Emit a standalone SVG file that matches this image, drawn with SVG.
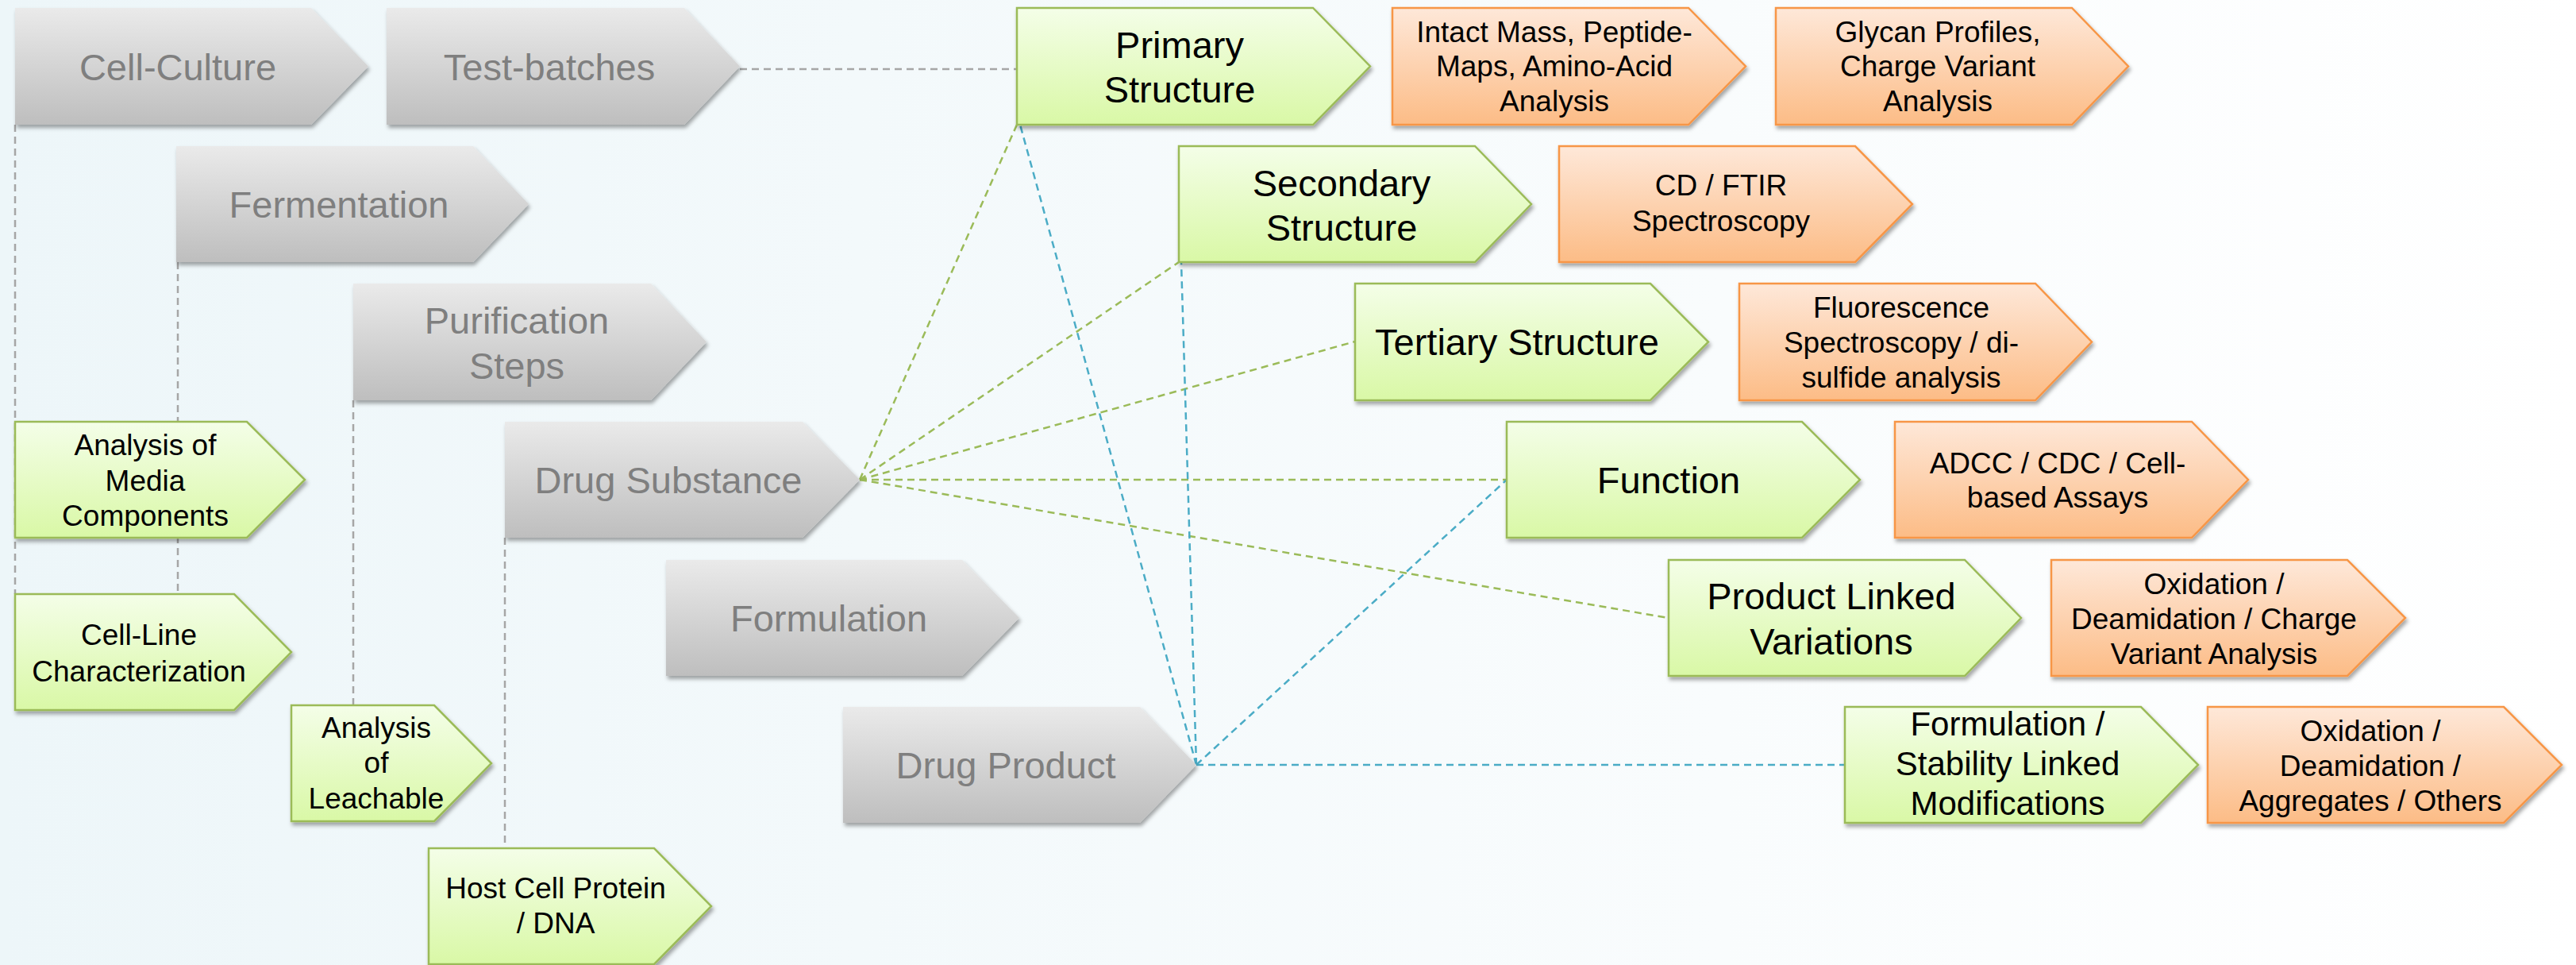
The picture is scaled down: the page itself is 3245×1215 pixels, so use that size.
<svg xmlns="http://www.w3.org/2000/svg" width="3245" height="1215" viewBox="0 0 3245 1215">
<defs>
<linearGradient id="bg" x1="0" y1="0" x2="1" y2="0"><stop offset="0" stop-color="#EDF6F9"/><stop offset="1" stop-color="#FFFFFF"/></linearGradient>
<linearGradient id="gGray" x1="0" y1="0" x2="0" y2="1"><stop offset="0" stop-color="#EAEAEA"/><stop offset="1" stop-color="#BEBEBE"/></linearGradient>
<linearGradient id="gGreen" x1="0" y1="0" x2="0" y2="1"><stop offset="0" stop-color="#F4FEE8"/><stop offset="1" stop-color="#D9F8A6"/></linearGradient>
<linearGradient id="gOrange" x1="0" y1="0" x2="0" y2="1"><stop offset="0" stop-color="#FEE8D9"/><stop offset="1" stop-color="#FCBC86"/></linearGradient>
<filter id="sh" x="-5%" y="-5%" width="115%" height="125%"><feDropShadow dx="2" dy="4" stdDeviation="2.5" flood-color="#000" flood-opacity="0.35"/></filter>
</defs>
<style>
.gray{fill:url(#gGray);stroke:none;filter:url(#sh)}
.green{fill:url(#gGreen);stroke:#9BBB59;stroke-width:2.5;filter:url(#sh)}
.orange{fill:url(#gOrange);stroke:#F79646;stroke-width:2.5;filter:url(#sh)}
text{font-family:"Liberation Sans",Arial,sans-serif;text-anchor:middle}
.tg{fill:#7F7F7F;font-size:47px}
.tb{fill:#000;font-size:47px}
.ts{fill:#000;font-size:37px}
.to{fill:#000;font-size:37px}
.cg{stroke:#A6A6A6;stroke-width:2.5;stroke-dasharray:9 6;fill:none}
.cgr{stroke:#9BBB59;stroke-width:2.5;stroke-dasharray:9 6;fill:none}
.cb{stroke:#4BACC6;stroke-width:2.5;stroke-dasharray:9 6;fill:none}
</style>
<rect x="0" y="0" width="3245" height="1215" fill="url(#bg)"/>
<g id="connectors">
<line class="cg" x1="932" y1="87" x2="1281" y2="87"/>
<line class="cg" x1="19" y1="157" x2="19" y2="748"/>
<line class="cg" x1="224" y1="330" x2="224" y2="748"/>
<line class="cg" x1="445" y1="504" x2="445" y2="888"/>
<line class="cg" x1="636" y1="677" x2="636" y2="1068"/>
<line class="cgr" x1="1083" y1="604" x2="1281" y2="157"/>
<line class="cgr" x1="1083" y1="604" x2="1485" y2="330"/>
<line class="cgr" x1="1083" y1="604" x2="1707" y2="430"/>
<line class="cgr" x1="1083" y1="604" x2="1898" y2="604"/>
<line class="cgr" x1="1083" y1="604" x2="2102" y2="778"/>
<line class="cb" x1="1507" y1="963" x2="1285" y2="157"/>
<line class="cb" x1="1507" y1="963" x2="1488" y2="330"/>
<line class="cb" x1="1507" y1="963" x2="1898" y2="604"/>
<line class="cb" x1="1507" y1="963" x2="2324" y2="963"/>
</g>
<g id="cell-culture"><path class="gray" d="M19,10 H392 L464,83.5 L392,157 H19 Z"/><text class="tg" x="224" y="101">Cell-Culture</text></g>
<g id="test-batches"><path class="gray" d="M487,10 H862 L932,83.5 L862,157 H487 Z"/><text class="tg" x="692" y="101">Test-batches</text></g>
<g id="fermentation"><path class="gray" d="M222,184 H596 L666,257 L596,330 H222 Z"/><text class="tg" x="427" y="274">Fermentation</text></g>
<g id="purification"><path class="gray" d="M445,357 H820 L890,430.5 L820,504 H445 Z"/><text class="tg" x="651" y="420">Purification</text><text class="tg" x="651" y="477">Steps</text></g>
<g id="drug-substance"><path class="gray" d="M636,531 H1011 L1083,604 L1011,677 H636 Z"/><text class="tg" x="842" y="621">Drug Substance</text></g>
<g id="formulation"><path class="gray" d="M839,705 H1212 L1284,778 L1212,851 H839 Z"/><text class="tg" x="1044" y="795">Formulation</text></g>
<g id="drug-product"><path class="gray" d="M1062,890 H1436 L1507,963 L1436,1036 H1062 Z"/><text class="tg" x="1267" y="980">Drug Product</text></g>
<g id="primary"><path class="green" d="M1281,10 H1654 L1726,83.5 L1654,157 H1281 Z"/><text class="tb" x="1486" y="73">Primary</text><text class="tb" x="1486" y="129">Structure</text></g>
<g id="secondary"><path class="green" d="M1485,184 H1858 L1929,257 L1858,330 H1485 Z"/><text class="tb" x="1690" y="247">Secondary</text><text class="tb" x="1690" y="303">Structure</text></g>
<g id="tertiary"><path class="green" d="M1707,357 H2079 L2152,430.5 L2079,504 H1707 Z"/><text class="tb" x="1911" y="447">Tertiary Structure</text></g>
<g id="function"><path class="green" d="M1898,531 H2270 L2343,604 L2270,677 H1898 Z"/><text class="tb" x="2102" y="621">Function</text></g>
<g id="product-linked"><path class="green" d="M2102,705 H2475 L2546,778 L2475,851 H2102 Z"/><text class="tb" x="2307" y="767">Product Linked</text><text class="tb" x="2307" y="824">Variations</text></g>
<g id="formulation-stability"><path class="green" d="M2324,890 H2697 L2769,963 L2697,1036 H2324 Z"/><text class="tb" x="2529" y="926" style="font-size:42px">Formulation /</text><text class="tb" x="2529" y="976" style="font-size:42px">Stability Linked</text><text class="tb" x="2529" y="1026" style="font-size:42px">Modifications</text></g>
<g id="media"><path class="green" d="M19,531 H311 L384,604 L311,677 H19 Z"/><text class="ts" x="183" y="573">Analysis of</text><text class="ts" x="183" y="618">Media</text><text class="ts" x="183" y="662">Components</text></g>
<g id="cell-line"><path class="green" d="M19,748 H295 L367,821 L295,894 H19 Z"/><text class="ts" x="175" y="812">Cell-Line</text><text class="ts" x="175" y="858">Characterization</text></g>
<g id="leachable"><path class="green" d="M367,888 H547 L619,961 L547,1034 H367 Z"/><text class="ts" x="474" y="929">Analysis</text><text class="ts" x="474" y="973">of</text><text class="ts" x="474" y="1018">Leachable</text></g>
<g id="host-cell"><path class="green" d="M540,1068 H824 L896,1141 L824,1214 H540 Z"/><text class="ts" x="700" y="1131">Host Cell Protein</text><text class="ts" x="700" y="1175">/ DNA</text></g>
<g id="intact-mass"><path class="orange" d="M1754,10 H2127 L2199,83.5 L2127,157 H1754 Z"/><text class="to" x="1958" y="53">Intact Mass, Peptide-</text><text class="to" x="1958" y="96">Maps, Amino-Acid</text><text class="to" x="1958" y="140">Analysis</text></g>
<g id="glycan"><path class="orange" d="M2237,10 H2610 L2681,83.5 L2610,157 H2237 Z"/><text class="to" x="2441" y="53">Glycan Profiles,</text><text class="to" x="2441" y="96">Charge Variant</text><text class="to" x="2441" y="140">Analysis</text></g>
<g id="cd-ftir"><path class="orange" d="M1964,184 H2337 L2409,257 L2337,330 H1964 Z"/><text class="to" x="2168" y="246">CD / FTIR</text><text class="to" x="2168" y="291">Spectroscopy</text></g>
<g id="fluorescence"><path class="orange" d="M2191,357 H2564 L2635,430.5 L2564,504 H2191 Z"/><text class="to" x="2395" y="400">Fluorescence</text><text class="to" x="2395" y="444">Spectroscopy / di-</text><text class="to" x="2395" y="488">sulfide analysis</text></g>
<g id="adcc"><path class="orange" d="M2387,531 H2761 L2832,604 L2761,677 H2387 Z"/><text class="to" x="2592" y="596">ADCC / CDC / Cell-</text><text class="to" x="2592" y="639">based Assays</text></g>
<g id="oxidation-charge"><path class="orange" d="M2584,705 H2957 L3030,778 L2957,851 H2584 Z"/><text class="to" x="2789" y="748">Oxidation /</text><text class="to" x="2789" y="792">Deamidation / Charge</text><text class="to" x="2789" y="836">Variant Analysis</text></g>
<g id="oxidation-aggregates"><path class="orange" d="M2781,890 H3154 L3227,963 L3154,1036 H2781 Z"/><text class="to" x="2986" y="933">Oxidation /</text><text class="to" x="2986" y="977">Deamidation /</text><text class="to" x="2986" y="1021">Aggregates / Others</text></g>
</svg>
